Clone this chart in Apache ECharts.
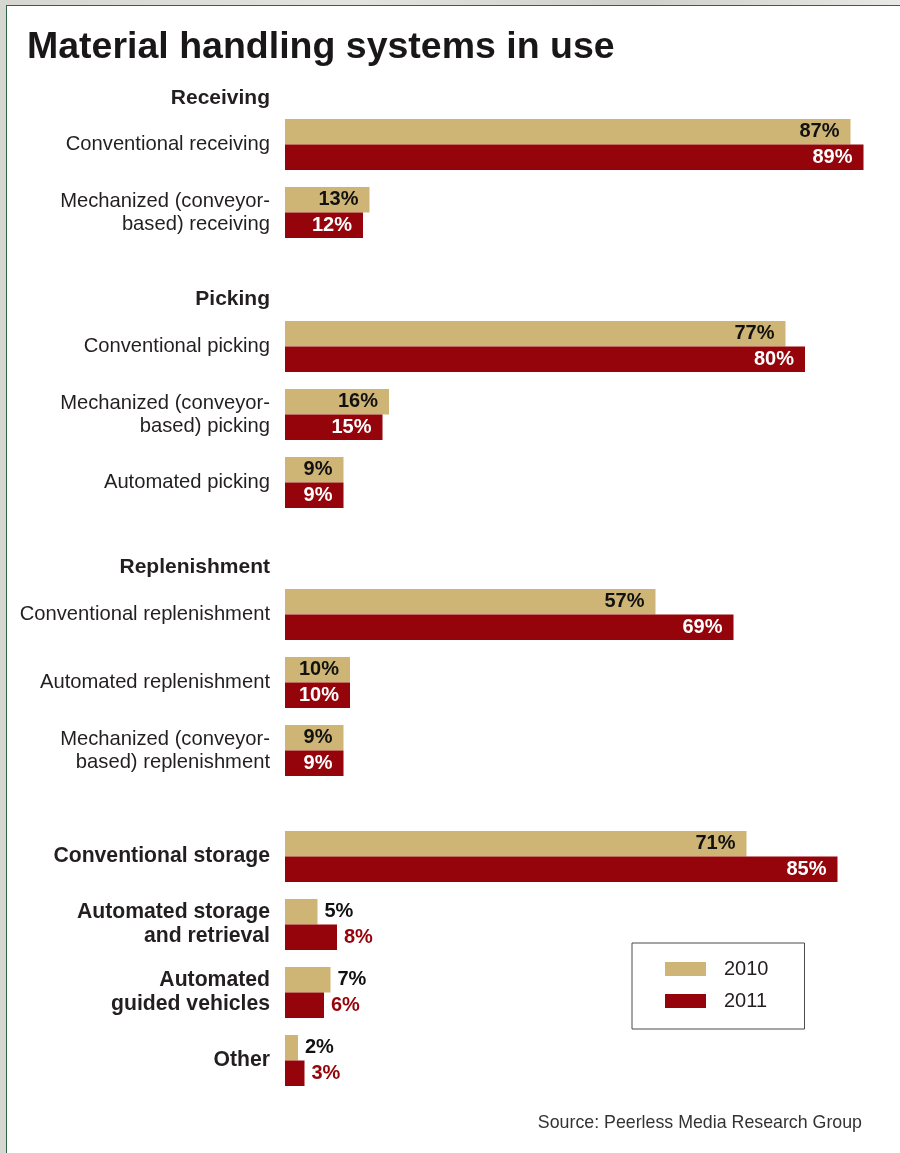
<!DOCTYPE html>
<html>
<head>
<meta charset="utf-8">
<script src="https://cdn.jsdelivr.net/npm/echarts@6/dist/echarts.min.js"></script>
<style>
  html, body { margin: 0; padding: 0; width: 900px; height: 1153px; overflow: hidden; }
  body { background: linear-gradient(90deg, #d6d7d0, #e4e4df 40%, #cfd0c9 70%, #e8e8e4); position: relative; }
  #frame { position: absolute; left: 6px; top: 5px; width: 900px; height: 1200px; background: #ffffff;
           border-left: 1.6px solid #2f6447; border-top: 1.6px solid #2f6447; }
  #chart { position: absolute; left: 0; top: 0; width: 900px; height: 1153px; }
</style>
</head>
<body>
<div id="frame"></div>
<div id="chart"></div>
<script>
// ---- data ----
var seriesNames = ['2010', '2011'];

var receivingCats = ['Conventional receiving', 'Mechanized (conveyor-\nbased) receiving'];
var receiving2010 = [87, 13];
var receiving2011 = [89, 12];

var pickingCats = ['Conventional picking', 'Mechanized (conveyor-\nbased) picking', 'Automated picking'];
var picking2010 = [77, 16, 9];
var picking2011 = [80, 15, 9];

var replenishCats = ['Conventional replenishment', 'Automated replenishment', 'Mechanized (conveyor-\nbased) replenishment'];
var replenish2010 = [57, 10, 9];
var replenish2011 = [69, 10, 9];

var storageCats = ['Conventional storage', 'Automated storage\nand retrieval', 'Automated\nguided vehicles', 'Other'];
var storage2010 = [71, 5, 7, 2];
var storage2011 = [85, 8, 6, 3];

var sectionHeaders = ['Receiving', 'Picking', 'Replenishment'];
var titleText = 'Material handling systems in use';
var sourceText = 'Source: Peerless Media Research Group';

// ---- styles ----
var FONT = '"Liberation Sans", Arial, Helvetica, sans-serif';
var TAN = '#cfb575';
var RED = '#95040b';
var TEXT = '#231f20';

var sections = [
  { cats: receivingCats, a: receiving2010, b: receiving2011, top: 110.5, bold: false },
  { cats: pickingCats, a: picking2010, b: picking2011, top: 312.5, bold: false },
  { cats: replenishCats, a: replenish2010, b: replenish2011, top: 580.5, bold: false },
  { cats: storageCats, a: storage2010, b: storage2011, top: 822.5, bold: true }
];
var SLOT = 68;

function buildData(vals, isRed) {
  return vals.map(function (v) {
    var inside = v >= 9;
    return {
      value: v,
      label: inside ? {
        position: 'insideRight', distance: 11,
        color: isRed ? '#ffffff' : '#111111'
      } : {
        position: 'right', distance: 7,
        color: isRed ? RED : '#111111'
      }
    };
  });
}

var grids = [], xAxes = [], yAxes = [], series = [];
sections.forEach(function (s, i) {
  grids.push({ left: 285, width: 585, top: s.top, height: s.cats.length * SLOT, containLabel: false });
  xAxes.push({ gridIndex: i, type: 'value', min: 0, max: 90, show: false, splitLine: { show: false } });
  yAxes.push({
    gridIndex: i, type: 'category', inverse: true, data: s.cats,
    axisLine: { show: false }, axisTick: { show: false }, splitLine: { show: false },
    axisLabel: {
      margin: 15, fontFamily: FONT, fontSize: s.bold ? 21.2 : 20.2, lineHeight: s.bold ? 24 : 23,
      fontWeight: s.bold ? 'bold' : 'normal', color: TEXT, align: 'right'
    }
  });
  [s.a, s.b].forEach(function (vals, k) {
    series.push({
      name: seriesNames[k], type: 'bar', xAxisIndex: i, yAxisIndex: i,
      data: buildData(vals, k === 1),
      barWidth: 25.5, barGap: '0%',
      itemStyle: { color: k === 0 ? TAN : RED },
      label: {
        show: true, formatter: '{c}%', fontFamily: FONT, fontSize: 20, fontWeight: 'bold'
      },
      emphasis: { disabled: true },
      animation: false
    });
  });
});

var headerCenters = [97.5, 299, 567];
var titles = [{
  text: titleText, left: 27, top: 28.5, padding: 0,
  textStyle: { fontFamily: FONT, fontSize: 37.5, fontWeight: 'bold', color: '#1a1718', lineHeight: 37.5 }
}];
sectionHeaders.forEach(function (h, i) {
  titles.push({
    text: h, right: 630, top: headerCenters[i] - 10, padding: 0,
    textStyle: { fontFamily: FONT, fontSize: 21, fontWeight: 'bold', color: TEXT, lineHeight: 21 }
  });
});
titles.push({
  text: sourceText, right: 38, top: 1114.5, padding: 0,
  textStyle: { fontFamily: FONT, fontSize: 17.8, fontWeight: 'normal', color: '#333333', lineHeight: 18 }
});

var chart = echarts.init(document.getElementById('chart'), null, { renderer: 'canvas' });
chart.setOption({
  backgroundColor: 'transparent',
  animation: false,
  title: titles,
  legend: {
    data: seriesNames, orient: 'vertical', left: 632, top: 943,
    padding: [16, 36, 18, 33], itemGap: 12, itemWidth: 41, itemHeight: 14,
    borderColor: '#4a4a4a', borderWidth: 1, selectedMode: false,
    icon: 'rect',
    textStyle: { fontFamily: FONT, fontSize: 20, color: TEXT, lineHeight: 20, padding: [0, 0, 0, 13] }
  },
  grid: grids,
  xAxis: xAxes,
  yAxis: yAxes,
  series: series
});
</script>
</body>
</html>
